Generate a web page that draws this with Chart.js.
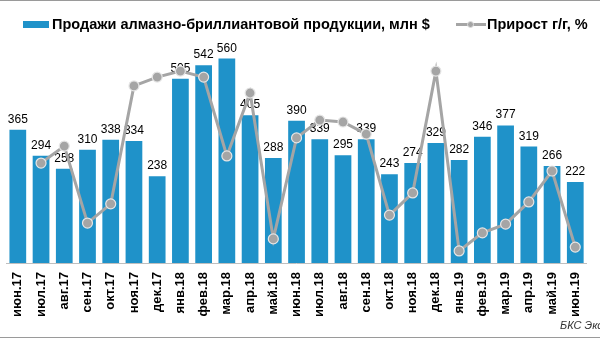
<!DOCTYPE html>
<html>
<head>
<meta charset="utf-8">
<script src="https://cdn.jsdelivr.net/npm/chart.js@4"></script>
<style>
  html, body { margin: 0; padding: 0; background: #fff; }
  #wrap { position: relative; width: 600px; height: 338px; overflow: hidden; font-family: Arial, "Liberation Sans", sans-serif; }
  #wrap canvas { position: absolute; left: 0; top: 0; }
  .frame { position: absolute; left: 0; width: 600px; height: 1px; background: #9a9a9a; }
  .legend { position: absolute; top: 15px; font-size: 14.5px; font-weight: bold; color: #000; line-height: 18px; white-space: nowrap; }
  .swatch-bar { position: absolute; top: 21px; left: 23px; width: 26px; height: 7px; background: #1f92c9; }
  .swatch-line { position: absolute; top: 23px; left: 456px; width: 30px; height: 3px; background: #a5a5a5; }
  .swatch-dot { position: absolute; top: 21px; left: 467px; width: 7px; height: 7px; border-radius: 50%; background: #a5a5a5; border: 0.5px solid #ddd; box-sizing: border-box; }
  .source { position: absolute; left: 560px; top: 319px; font-size: 11px; font-style: italic; color: #333; white-space: nowrap; }
</style>
</head>
<body>
<div id="wrap">
  <canvas id="chart" width="600" height="338"></canvas>
  <div class="frame" style="top:0"></div>
  <div class="frame" style="top:337px"></div>
  <div class="swatch-bar"></div>
  <div class="legend" style="left:52px">Продажи алмазно-бриллиантовой продукции, млн $</div>
  <div class="swatch-line"></div>
  <div class="swatch-dot"></div>
  <div class="legend" style="left:487px">Прирост г/г, %</div>
  <div class="source">БКС Экспресс</div>
</div>
<script>
// Categories (months)
const months = ['июн.17', 'июл.17', 'авг.17', 'сен.17', 'окт.17', 'ноя.17', 'дек.17',
    'янв.18', 'фев.18', 'мар.18', 'апр.18', 'май.18', 'июн.18', 'июл.18', 'авг.18', 'сен.18',
    'окт.18', 'ноя.18', 'дек.18', 'янв.19', 'фев.19', 'мар.19', 'апр.19', 'май.19', 'июн.19'];
// Sales, mln $
const sales = [365, 294, 258, 310, 338, 334, 238, 505, 542, 560, 405, 288, 390, 339, 295, 339,
    243, 274, 329, 282, 346, 377, 319, 266, 222];
// Growth y/y, % (hidden secondary axis, estimated)
const growth = [null, -3.5, 2.7, -25.4, -18.4, 24.7, 27.9, 30.1, 27.9, -0.9, 22.1, -31.2, 5.7,
    12.2, 11.5, 7.1, -22.5, -14.4, 30.1, -35.6, -29.0, -25.8, -17.7, -6.4, -34.2];

const barLabels = {
    id: 'barLabels',
    afterDatasetDraw(chart, args) {
        if (args.index !== 0) return;
        const ctx = chart.ctx;
        ctx.save();
        ctx.font = '12px Arial, "Liberation Sans", sans-serif';
        ctx.fillStyle = '#000';
        ctx.textAlign = 'center';
        ctx.textBaseline = 'alphabetic';
        args.meta.data.forEach((bar, i) => {
            ctx.fillText(String(sales[i]), bar.x, bar.y - 7);
        });
        ctx.restore();
    }
};

new Chart(document.getElementById('chart'), {
    type: 'bar',
    data: {
        labels: months,
        datasets: [
            { type: 'bar', label: 'Продажи алмазно-бриллиантовой продукции, млн $', data: sales,
                backgroundColor: '#1f92c9', barPercentage: 0.72, categoryPercentage: 1.0,
                yAxisID: 'y', order: 2 },
            { type: 'line', label: 'Прирост г/г, %', data: growth, yAxisID: 'y2', order: 1,
                borderColor: '#a5a5a5', borderWidth: 3, tension: 0, spanGaps: false,
                pointRadius: 5, pointBackgroundColor: '#a5a5a5', pointBorderColor: '#e6e6e6',
                pointBorderWidth: 1.2 },
        ],
    },
    options: {
        responsive: false,
        animation: false,
        layout: { padding: { top: 44, left: 6, right: 2, bottom: 0 } },
        plugins: { legend: { display: false }, tooltip: { enabled: false } },
        scales: {
            x: {
                grid: { display: false, drawTicks: false },
                border: { display: true, color: '#bfbfbf', width: 1 },
                ticks: { color: '#000', font: { family: 'Arial, "Liberation Sans", sans-serif', size: 13, weight: 'bold' },
                    minRotation: 90, maxRotation: 90, padding: 9, autoSkip: false },
                afterFit: s => { s.height = 75; },
            },
            y: { display: false, min: 0, max: 600 },
            y2: { display: false, min: -40, max: 40, position: 'right' },
        },
    },
    plugins: [barLabels],
});
</script>
</body>
</html>
